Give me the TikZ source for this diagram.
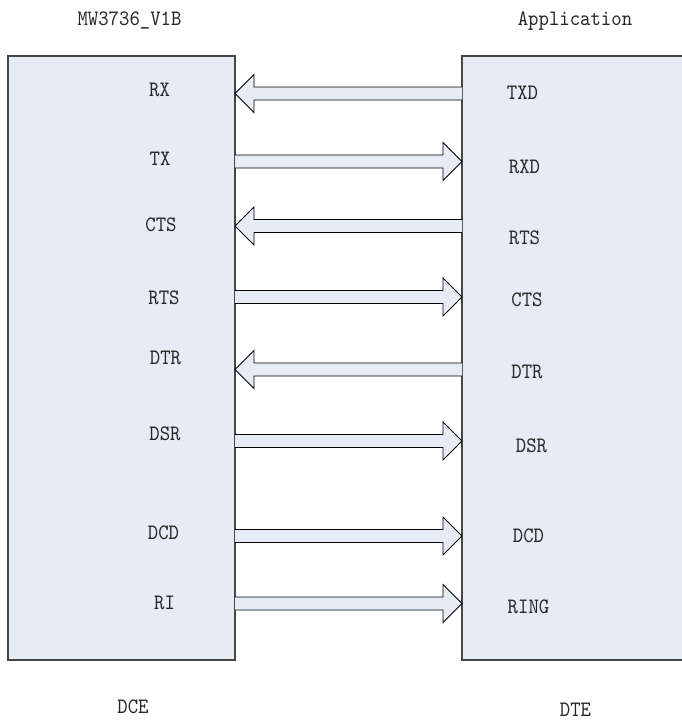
\documentclass[tikz,border=0pt]{standalone}
\usepackage{xcolor}
\usepackage{fontspec}
\usepackage{tikz}
\usetikzlibrary{calc}

\newfontfamily\pinfont{lmmono10-regular}[Extension=.otf, FakeStretch=0.9]

\definecolor{boxfill}{RGB}{230,236,246}
\definecolor{edgegray}{RGB}{70,70,70}

\begin{document}
\begin{tikzpicture}[
            x=1pt, y=-1pt,
            unit/.style={rectangle, draw=edgegray, line width=1.2pt, fill=boxfill, inner sep=0pt, outer sep=0pt},
            sig/.style={anchor=base, inner sep=0pt, text=black!85, font=\pinfont\fontsize{22}{26}\selectfont},
            fat/.style={draw=black, line width=0.9pt, fill=boxfill, line join=miter,
                to path={let \p1=(\tikztostart), \p2=(\tikztotarget), \p3=($(\tikztotarget)!19pt!(\tikztostart)$) in
                    (\x1,\y1+6.5pt) -- (\x3,\y1+6.5pt) -- (\x3,\y1+19pt) -- (\x2,\y2)
                    -- (\x3,\y1-19pt) -- (\x3,\y1-6.5pt) -- (\x1,\y1-6.5pt) \tikztonodes}}
        ]
        \useasboundingbox (0,0) rectangle (682,720);
        \clip (0,0) rectangle (682,720);

        % the two units
        \node[unit, minimum width=227, minimum height=604] (dce) at (121.5,358) {};
        \node[unit, minimum width=230, minimum height=604] (dte) at (577,358) {};

        \node[sig] (mw) at (129.5,25) {MW3736\_V1B};
        \node[sig] (app) at (575,25) {Application};
        \node[sig] (dcename) at (133,713) {DCE};
        \node[sig] (dtename) at (575.5,716) {DTE};

        % pins on the DCE side
        \node[sig] (rx) at (159.5,96.5) {RX};
        \node[sig] (tx) at (160,165.5) {TX};
        \node[sig] (cts) at (161,231.5) {CTS};
        \node[sig] (rts) at (164,304.5) {RTS};
        \node[sig] (dtr) at (165.5,364.5) {DTR};
        \node[sig] (dsr) at (165,440.5) {DSR};
        \node[sig] (dcd) at (163.5,539.5) {DCD};
        \node[sig] (ri) at (164.5,609.5) {RI};

        % pins on the DTE side
        \node[sig] (txd) at (522.5,99.5) {TXD};
        \node[sig] (rxd) at (524.5,173.5) {RXD};
        \node[sig] (rtsb) at (524.5,244.5) {RTS};
        \node[sig] (ctsb) at (527,306.5) {CTS};
        \node[sig] (dtrb) at (527,378.5) {DTR};
        \node[sig] (dsrb) at (531.5,452.5) {DSR};
        \node[sig] (dcdb) at (528.5,542.5) {DCD};
        \node[sig] (ring) at (528.5,613.5) {RING};

        % rows where the lines meet the DCE box
        \coordinate (l1) at (dce.east |- 0,93.5);
        \coordinate (l2) at (dce.east |- 0,161.5);
        \coordinate (l3) at (dce.east |- 0,226);
        \coordinate (l4) at (dce.east |- 0,297);
        \coordinate (l5) at (dce.east |- 0,369.5);
        \coordinate (l6) at (dce.east |- 0,441);
        \coordinate (l7) at (dce.east |- 0,536);
        \coordinate (l8) at (dce.east |- 0,603.5);

        \draw[fat] (l1 -| dte.west) to (l1);
        \draw[fat] (l2) to (l2 -| dte.west);
        \draw[fat] (l3 -| dte.west) to (l3);
        \draw[fat] (l4) to (l4 -| dte.west);
        \draw[fat] (l5 -| dte.west) to (l5);
        \draw[fat] (l6) to (l6 -| dte.west);
        \draw[fat] (l7) to (l7 -| dte.west);
        \draw[fat] (l8) to (l8 -| dte.west);
    \end{tikzpicture}
\end{document}
